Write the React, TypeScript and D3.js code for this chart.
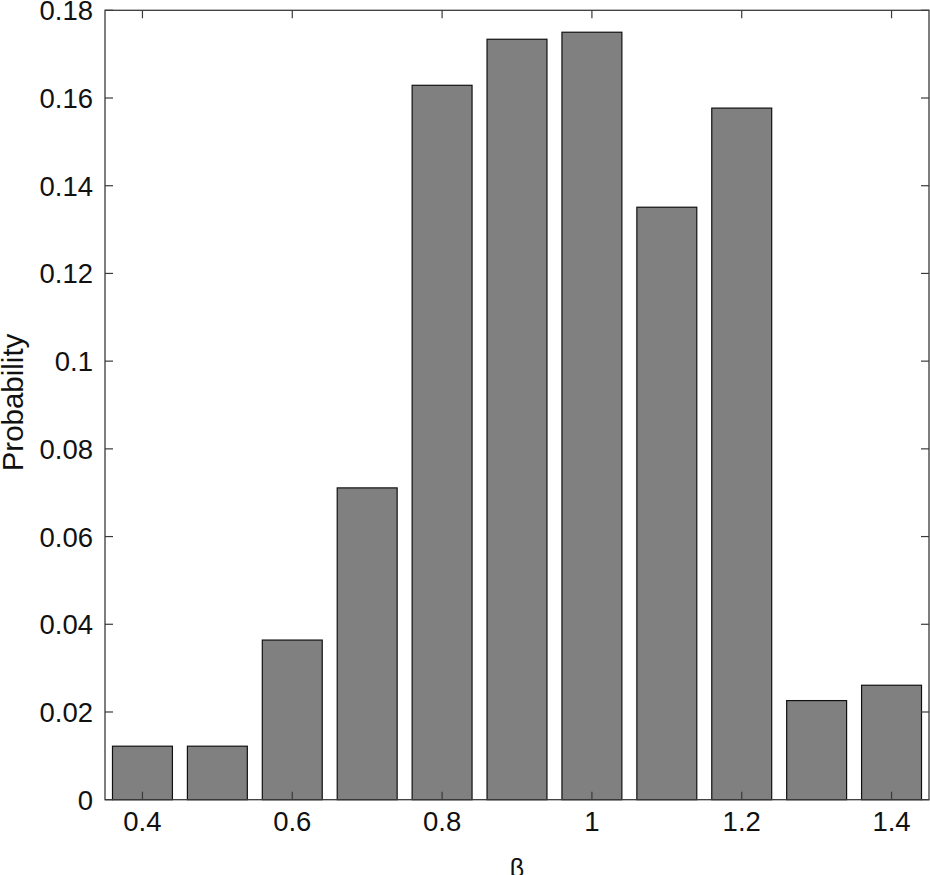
import React from "react";
import * as d3 from "d3";

const betaValues = [0.4, 0.5, 0.6, 0.7, 0.8, 0.9, 1.0, 1.1, 1.2, 1.3, 1.4];
const probabilities = [0.0122, 0.0122, 0.0364, 0.0711, 0.1629, 0.1734, 0.175, 0.1351, 0.1577, 0.0226, 0.0261];
const xTicks = [0.4, 0.6, 0.8, 1.0, 1.2, 1.4];
const xTickLabels = ["0.4", "0.6", "0.8", "1", "1.2", "1.4"];
const yTicks = [0, 0.02, 0.04, 0.06, 0.08, 0.1, 0.12, 0.14, 0.16, 0.18];
const yTickLabels = ["0", "0.02", "0.04", "0.06", "0.08", "0.1", "0.12", "0.14", "0.16", "0.18"];

const W = 930;
const H = 875;
const left = 105;
const right = 929;
const top = 10.3;
const bottom = 799.7;
const barWidth = 0.08;
const font = "'Liberation Sans', Arial, Helvetica, sans-serif";
const axisColor = "#3a3a3a";

export default function App() {
  const x = d3.scaleLinear().domain([0.35, 1.45]).range([left, right]);
  const y = d3.scaleLinear().domain([0, 0.18]).range([bottom, top]);
  const tickLen = 8;
  return (
    <svg width={W} height={H} style={{ position: "absolute", left: 0, top: 0, background: "#fff" }}>
      <rect x={0} y={0} width={W} height={H} fill="#fff" />
      {betaValues.map((b, i) => (
        <rect
          key={i}
          x={x(b - barWidth / 2)}
          y={y(probabilities[i])}
          width={x(b + barWidth / 2) - x(b - barWidth / 2)}
          height={y(0) - y(probabilities[i])}
          fill="#808080"
          stroke="#111"
          strokeWidth={1.2}
        />
      ))}
      <rect x={left} y={top} width={right - left} height={bottom - top} fill="none" stroke={axisColor} strokeWidth={1.3} />
      {xTicks.map((t, i) => (
        <g key={"x" + i}>
          <line x1={x(t)} x2={x(t)} y1={top} y2={top + tickLen} stroke={axisColor} strokeWidth={1.2} />
          <line x1={x(t)} x2={x(t)} y1={bottom} y2={bottom - tickLen} stroke={axisColor} strokeWidth={1.2} />
          <text x={x(t)} y={831} textAnchor="middle" fontFamily={font} fontSize={27.5} fill="#111">
            {xTickLabels[i]}
          </text>
        </g>
      ))}
      {yTicks.map((t, i) => (
        <g key={"y" + i}>
          <line x1={left} x2={left + tickLen} y1={y(t)} y2={y(t)} stroke={axisColor} strokeWidth={1.2} />
          <line x1={right} x2={right - tickLen} y1={y(t)} y2={y(t)} stroke={axisColor} strokeWidth={1.2} />
          <text x={93} y={y(t) + 10} textAnchor="end" fontFamily={font} fontSize={27.5} fill="#111">
            {yTickLabels[i]}
          </text>
        </g>
      ))}
      <text
        transform={`translate(23, 402.5) rotate(-90)`}
        textAnchor="middle"
        fontFamily={font}
        fontSize={29.5}
        fill="#111"
      >
        Probability
      </text>
      <text x={(left + right) / 2} y={877} textAnchor="middle" fontFamily={font} fontSize={25} fill="#111">
        β
      </text>
    </svg>
  );
}
